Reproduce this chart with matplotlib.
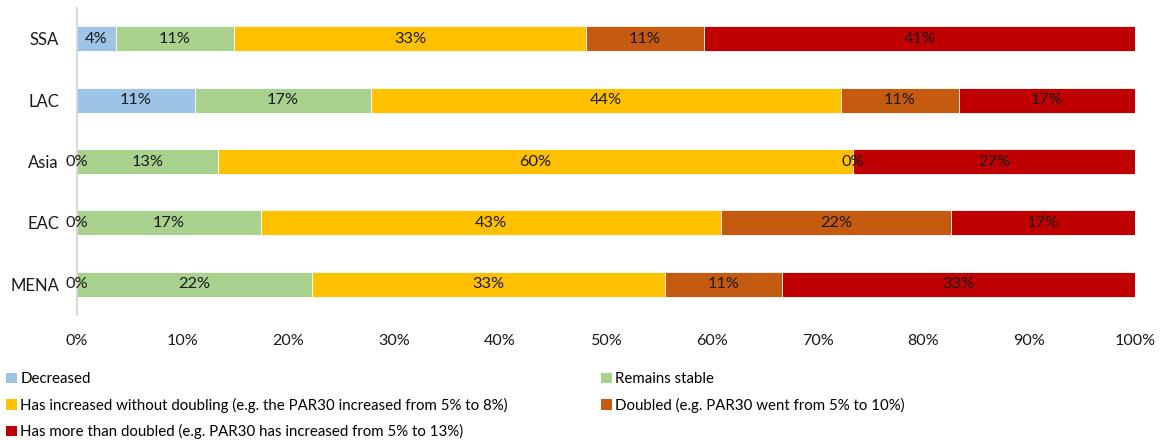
import matplotlib.pyplot as plt
from matplotlib.patches import Patch

plt.rcParams['font.family'] = ['Lato', 'DejaVu Sans']

# Regiones (de arriba hacia abajo) y reparto porcentual de respuestas
regiones = ["SSA", "LAC", "Asia", "EAC", "MENA"]
disminuyo = [3.70, 11.11, 0.0, 0.0, 0.0]
estable = [11.11, 16.67, 13.33, 17.39, 22.22]
aumento = [33.33, 44.44, 60.0, 43.48, 33.33]
duplico = [11.11, 11.11, 0.0, 21.74, 11.11]
mas_doble = [40.74, 16.67, 26.67, 17.39, 33.33]

series = [
    ("Decreased", disminuyo, "#9DC3E6"),
    ("Remains stable", estable, "#A9D18E"),
    ("Has increased without doubling (e.g. the PAR30 increased from 5% to 8%)", aumento, "#FFC000"),
    ("Doubled (e.g. PAR30 went from 5% to 10%)", duplico, "#C55A11"),
    ("Has more than doubled (e.g. PAR30 has increased from 5% to 13%)", mas_doble, "#C00000"),
]

fig = plt.figure(figsize=(11.61, 4.41), dpi=100)
ax = fig.add_axes([77 / 1161, 1 - 315 / 441, 1058 / 1161, 307 / 441])

y = list(range(len(regiones)))
izq = [0.0] * len(regiones)
handles = []
for nombre, vals, color in series:
    ax.barh(y, vals, left=izq, height=0.41, color=color, edgecolor="white", linewidth=0.6)
    for i, v in enumerate(vals):
        ax.text(izq[i] + v / 2, y[i], f"{v:.0f}%", ha="center", va="center", fontsize=11.8, color="#1a1a1a")
    izq = [a + b for a, b in zip(izq, vals)]
    handles.append(Patch(facecolor=color, label=nombre))

ax.set_ylim(len(regiones) - 0.5, -0.5)
ax.set_xlim(0, 100)
ax.set_yticks(y)
ax.set_yticklabels(regiones, fontsize=12)
ax.set_xticks(range(0, 101, 10))
ax.set_xticklabels([f"{t}%" for t in range(0, 101, 10)], fontsize=11.6)
ax.tick_params(axis="both", length=0, colors="#1a1a1a")
ax.tick_params(axis="x", pad=14)
ax.tick_params(axis="y", pad=13)
for s in ["top", "right", "bottom"]:
    ax.spines[s].set_visible(False)
ax.spines["left"].set_color("#D9D9D9")
ax.spines["left"].set_linewidth(1.5)

# Leyenda en dos columnas: izquierda (1, 3, 5) y derecha (2, 4)
estilo = dict(frameon=False, fontsize=10.8, handlelength=0.7, handleheight=0.7,
              handletextpad=0.25, labelspacing=0.77, borderpad=0, borderaxespad=0,
              loc="upper left")
fig.legend([handles[k] for k in (0, 2, 4)], [handles[k].get_label() for k in (0, 2, 4)],
           bbox_to_anchor=(6 / 1161, 1 - 372 / 441), **estilo)
fig.legend([handles[k] for k in (1, 3)], [handles[k].get_label() for k in (1, 3)],
           bbox_to_anchor=(601 / 1161, 1 - 372 / 441), **estilo)

fig.savefig("out.png", dpi=100)
